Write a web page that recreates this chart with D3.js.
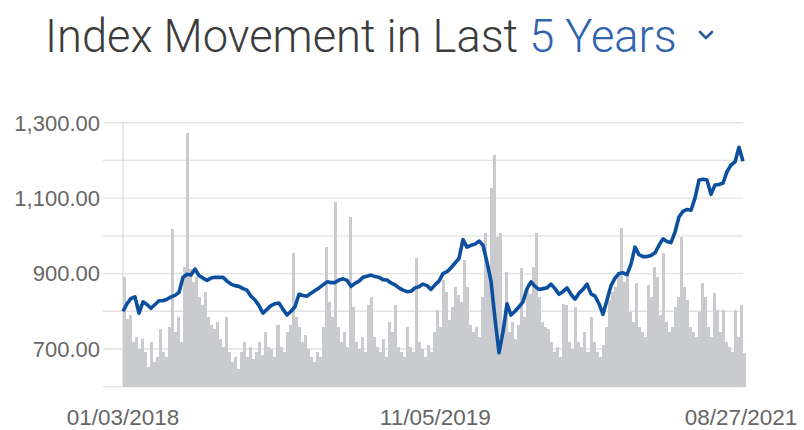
<!DOCTYPE html>
<html>
<head>
<meta charset="utf-8">
<script src="https://cdn.jsdelivr.net/npm/d3@7"></script>
<style>
  html, body { margin: 0; padding: 0; background: #ffffff; }
  svg { display: block; }
</style>
</head>
<body>
<svg id="chart" width="804" height="430"></svg>
<script>
// ---------------- data ----------------
const titleMain = "Index Movement in Last ";
const titlePeriod = "5 Years";

const xTickLabels = ["01/03/2018", "11/05/2019", "08/27/2021"];

const yTickValues = [700, 900, 1100, 1300];
const yGridValues = [600, 700, 800, 900, 1000, 1100, 1200, 1300];

// index close, evenly spaced from 01/03/2018 to 08/27/2021
const indexValues = [
  800, 820, 834, 838, 795, 825, 818, 808, 818, 828,
  828, 832, 838, 842, 850, 890, 898, 896, 912, 895,
  888, 882, 888, 890, 890, 890, 880, 872, 868, 866,
  860, 856, 840, 830, 815, 795, 805, 815, 820, 822,
  805, 790, 800, 812, 845, 842, 840, 848, 855, 862,
  870, 878, 876, 876, 883, 886, 882, 866, 874, 880,
  890, 893, 896, 892, 890, 884, 883, 875, 870, 862,
  856, 852, 853, 862, 865, 872, 868, 858, 870, 880,
  900, 905, 915, 928, 940, 990, 970, 975, 978, 986,
  975, 930, 880, 780, 690, 745, 820, 790, 800, 812,
  825, 860, 878, 866, 858, 860, 862, 872, 860, 845,
  852, 862, 845, 832, 848, 858, 872, 846, 840, 820,
  792, 830, 868, 888, 900, 902, 897, 925, 970, 950,
  945, 945, 948, 955, 975, 992, 985, 982, 1010, 1050,
  1065, 1070, 1068, 1100, 1148, 1150, 1148, 1110, 1135, 1136,
  1140, 1170, 1188, 1196, 1235, 1198
];

// traded volume (relative units), evenly spaced over the same period
const volumeValues = [
  110, 68, 72, 45, 50, 38, 48, 35, 20, 45,
  25, 30, 58, 35, 30, 60, 158, 55, 70, 45,
  120, 254, 118, 105, 110, 90, 82, 95, 70, 62,
  58, 65, 48, 40, 70,
  35, 25, 30, 18, 35, 45, 30, 40, 28, 35,
  45, 32, 55, 40, 38, 30, 62, 40, 35, 55,
  62, 134, 70, 60, 45, 52, 38, 30, 25, 35,
  30, 60, 140, 85, 70, 185,
  60, 45, 55, 40, 170, 80, 45, 38, 50, 35,
  82, 90, 50, 40, 35, 48, 30, 65, 55, 82,
  40, 35, 30, 60, 40, 35, 129, 45, 38, 30,
  42, 35, 55, 77, 60, 107, 95, 67, 80, 100,
  92, 85, 127, 100, 62, 55, 60, 50, 90, 154,
  120, 199, 232, 150, 154, 60, 115, 55, 65, 48,
  62, 119, 70, 97, 93, 120, 154, 90, 65, 60,
  58, 45, 35, 40, 30, 83, 82, 45, 38, 80,
  45, 40, 55, 35, 70, 45, 35, 30, 42, 60,
  87, 95, 100, 115, 159, 105, 113, 75, 65, 104,
  60, 55, 50, 102, 90, 120, 110, 72, 134, 65,
  55, 60, 80, 90, 150, 100, 87, 60, 55, 50,
  75, 104, 90, 60, 50, 94, 77, 55, 77, 45,
  40, 35, 77, 50, 82, 34
];

// ---------------- chart ----------------
const svg = d3.select("#chart");
const parse = d3.timeParse("%m/%d/%Y");
const tStart = parse(xTickLabels[0]);
const tEnd = parse(xTickLabels[xTickLabels.length - 1]);

const plotLeft = 123, plotRight = 743, gridLeft = 103;
const plotTop = 122.7, plotBottom = 386.7;

const x = d3.scaleTime().domain([tStart, tEnd]).range([plotLeft, plotRight]);
const y = d3.scaleLinear().domain([600, 1300]).range([plotBottom, plotTop]);
const yVol = d3.scaleLinear().domain([0, 264]).range([plotBottom, plotTop]);

const dateAt = (i, n) => new Date(+tStart + (tEnd - tStart) * i / (n - 1));
const lineData = indexValues.map((v, i) => ({ date: dateAt(i, indexValues.length), v }));
const volData = volumeValues.map((v, i) => ({ date: dateAt(i, volumeValues.length), v }));

// horizontal grid
svg.append("g").selectAll("line").data(yGridValues).join("line")
  .attr("x1", gridLeft).attr("x2", plotRight)
  .attr("y1", d => y(d)).attr("y2", d => y(d))
  .attr("stroke", "#e2e2e2").attr("stroke-width", 1.3);

// vertical axis line at start
svg.append("line")
  .attr("x1", plotLeft).attr("x2", plotLeft)
  .attr("y1", y(1300)).attr("y2", y(600))
  .attr("stroke", "#dcdcdc").attr("stroke-width", 1.3);

// volume bars
const step = (plotRight - plotLeft) / (volumeValues.length - 1);
svg.append("g").attr("shape-rendering", "crispEdges")
  .selectAll("rect").data(volData).join("rect")
  .attr("x", d => x(d.date))
  .attr("width", step)
  .attr("y", d => yVol(d.v))
  .attr("height", d => yVol(0) - yVol(d.v))
  .attr("fill", "#cacbce");

// index line
svg.append("path")
  .datum(lineData)
  .attr("fill", "none")
  .attr("stroke", "#0c4f9f")
  .attr("stroke-width", 3.6)
  .attr("stroke-linejoin", "round")
  .attr("d", d3.line().x(d => x(d.date)).y(d => y(d.v)));

// y axis labels
const fmt = d3.format(",.2f");
svg.append("g").selectAll("text").data(yTickValues).join("text")
  .attr("x", 100).attr("y", d => y(d))
  .attr("dy", "0.36em")
  .attr("text-anchor", "end")
  .attr("font-family", "'Liberation Sans', Arial, sans-serif")
  .attr("font-size", 22)
  .attr("fill", "#666666")
  .text(d => fmt(d));

// x axis labels
svg.append("g").selectAll("text").data(xTickLabels).join("text")
  .attr("x", (d, i) => x(parse(d)) - (i === xTickLabels.length - 1 ? 2 : 0))
  .attr("y", 425)
  .attr("text-anchor", "middle")
  .attr("font-family", "'Liberation Sans', Arial, sans-serif")
  .attr("font-size", 22.5)
  .attr("fill", "#666666")
  .text(d => d);

// title
const title = svg.append("text")
  .attr("x", 0).attr("y", 0)
  .attr("font-family", "Roboto, 'Open Sans', sans-serif")
  .attr("font-weight", 300)
  .attr("font-size", 46);
title.append("tspan").attr("fill", "#3c3c3c").text(titleMain);
title.append("tspan").attr("fill", "#2f63ad").text(titlePeriod);
const tw = title.node().getComputedTextLength();
const targetW = 632;
title.attr("transform", `translate(45,52) scale(${targetW / tw},1)`);

// dropdown chevron
svg.append("path")
  .attr("d", "M700,32 L706,38 L712,32")
  .attr("fill", "none")
  .attr("stroke", "#2c5a9c")
  .attr("stroke-width", 2.6)
  .attr("stroke-linecap", "round")
  .attr("stroke-linejoin", "round");
</script>
</body>
</html>
